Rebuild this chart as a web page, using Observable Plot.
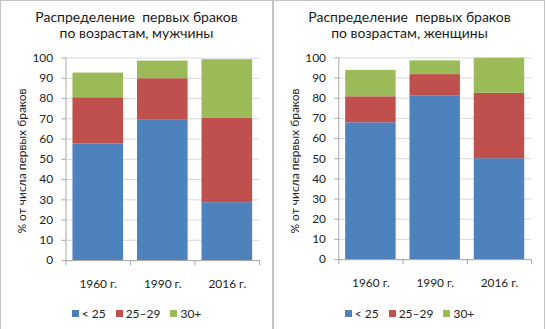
<!DOCTYPE html>
<html><head><meta charset="utf-8">
<script src="https://cdn.jsdelivr.net/npm/d3@7"></script>
<script src="https://cdn.jsdelivr.net/npm/@observablehq/plot@0.6"></script>
<style>
body{margin:0;background:#fff;font-family:Lato,"Open Sans",sans-serif;}
#root{position:relative;width:546px;height:329px;overflow:hidden;background:#fff}
.panel{position:absolute;top:0;height:340px;border:1px solid #c4c4c4;box-sizing:border-box;}
.panel svg{position:absolute;left:-1px;top:-1px;overflow:visible}
.title{position:absolute;left:-1px;width:273px;top:8px;text-align:center;font-size:14px;line-height:15.5px;color:#1a1a1a;white-space:pre}
.ylabel{position:absolute;left:-79px;top:152px;width:200px;text-align:center;font-size:12px;line-height:16px;color:#222;transform:rotate(-90deg);white-space:nowrap}
.legend{position:absolute;left:-1px;width:273px;top:305px;display:flex;justify-content:center;font-size:12px;color:#222;line-height:15px}
.legend .item{display:flex;align-items:center;margin:0 5px}
.legend .sw{width:7px;height:7px;margin-right:3px}
</style></head>
<body><div id="root"></div>
<script>
const years = ["1960 г.", "1990 г.", "2016 г."];
const groups = ["< 25", "25–29", "30+"];
const colors = ["#4F81BD", "#C0504D", "#9BBB59"];
const yTicks = [0, 10, 20, 30, 40, 50, 60, 70, 80, 90, 100];
const yLabel = "% от числа первых браков";

const menTitle = ["Распределение  первых браков", "по возрастам, мужчины"];
const menUnder25 = [57.5, 69.3, 28.6];
const men25to29 = [22.9, 20.5, 41.6];
const men30plus = [12.2, 8.7, 29.0];

const womenTitle = ["Распределение  первых браков", "по возрастам, женщины"];
const womenUnder25 = [67.8, 81.0, 50.0];
const women25to29 = [12.9, 10.7, 32.4];
const women30plus = [13.1, 6.8, 17.4];

function chart(series) {
  const rows = [];
  years.forEach((yr, i) => groups.forEach((g, j) => rows.push({year: yr, group: g, value: series[j][i]})));
  const W = 273, H = 300, mL = 66, mR = 12, mT = 58, mB = 38;
  const step = (W - mL - mR) / years.length;
  const axisColor = "#a6a6a6";
  return Plot.plot({
    width: W, height: H, marginLeft: mL, marginRight: mR, marginTop: mT, marginBottom: mB,
    style: {fontFamily: "Lato, 'Open Sans', sans-serif", fontSize: "12px", color: "#222", background: "transparent"},
    x: {domain: years, paddingInner: 0.21, paddingOuter: 0.105},
    y: {domain: [0, 100]},
    color: {domain: groups, range: colors},
    marks: [
      Plot.gridY({ticks: yTicks, stroke: "#d9d9d9", strokeOpacity: 1}),
      Plot.barY(rows, {x: "year", y: "value", fill: "group"}),
      Plot.ruleY([0], {stroke: axisColor}),
      Plot.ruleX([years[0]], {x: d => d, dx: -step / 2, y1: -2.5, y2: 100, stroke: axisColor}),
      Plot.ruleX(years, {x: d => d, dx: step / 2, y1: -2.5, y2: 0, stroke: axisColor}),
      Plot.axisY({ticks: yTicks, tickSize: 4, tickPadding: 9, label: null, stroke: axisColor}),
      Plot.axisX({tickSize: 0, tickPadding: 19, label: null})
    ]
  });
}

function panel(left, width, title, series) {
  const div = document.createElement("div");
  div.className = "panel";
  div.style.left = left + "px";
  div.style.width = width + "px";
  div.appendChild(chart(series));
  const t = document.createElement("div");
  t.className = "title";
  title.forEach(line => { const l = document.createElement("div"); l.textContent = line; t.appendChild(l); });
  div.appendChild(t);
  const yl = document.createElement("div");
  yl.className = "ylabel";
  yl.textContent = yLabel;
  div.appendChild(yl);
  const lg = document.createElement("div");
  lg.className = "legend";
  groups.forEach((g, i) => {
    const it = document.createElement("div"); it.className = "item";
    const sw = document.createElement("span"); sw.className = "sw"; sw.style.background = colors[i];
    const tx = document.createElement("span"); tx.textContent = g;
    it.appendChild(sw); it.appendChild(tx); lg.appendChild(it);
  });
  div.appendChild(lg);
  document.getElementById("root").appendChild(div);
}

panel(0, 273, menTitle, [menUnder25, men25to29, men30plus]);
panel(273, 272, womenTitle, [womenUnder25, women25to29, women30plus]);
</script>
</body></html>
